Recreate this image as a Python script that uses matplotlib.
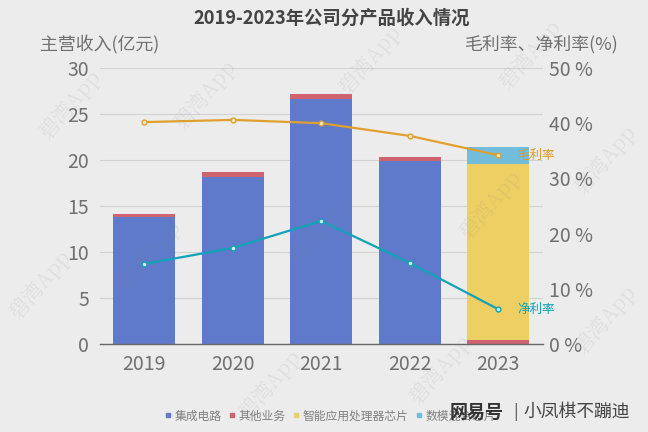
import numpy as np
import matplotlib
matplotlib.use("Agg")
import matplotlib.pyplot as plt
from matplotlib.lines import Line2D

plt.rcParams['font.family'] = ['Noto Sans CJK SC', 'DejaVu Sans']

years = ['2019', '2020', '2021', '2022', '2023']
ic = [13.8, 18.1, 26.6, 19.9, 0.0]
other = [0.3, 0.6, 0.6, 0.4, 0.4]
soc = [0, 0, 0, 0, 19.2]
mixed = [0, 0, 0, 0, 1.8]
gross_margin = [40.2, 40.6, 40.0, 37.7, 34.2]
net_margin = [14.5, 17.4, 22.3, 14.7, 6.3]

bg = '#ececec'
tick_col = '#707070'
W, H = 648, 432
fig = plt.figure(figsize=(6.48, 4.32), dpi=100, facecolor=bg)
ax = fig.add_axes([100 / W, 1 - 344 / H, 442.5 / W, 276 / H], facecolor=bg)

x = np.arange(len(years))
bottom = np.zeros(len(years))
for vals, col in [(ic, '#5f7acb'), (other, '#d0636f'), (soc, '#edcf63'), (mixed, '#72bcdc')]:
    ax.bar(x, vals, 0.7, bottom=bottom, color=col, zorder=2)
    bottom += np.array(vals)

ax.set_xlim(-0.5, 4.5)
ax.set_ylim(0, 30)
ax.set_yticks(range(0, 31, 5))
ax.set_xticks(x, years)
ax.grid(axis='y', color='#d2d2d2', lw=0.8, zorder=0)
ax.tick_params(length=0, labelsize=14, labelcolor=tick_col, pad=7)
ax.tick_params(axis='y', pad=8)
for s in ['top', 'right', 'left']:
    ax.spines[s].set_visible(False)
ax.spines['bottom'].set_color('#666666')
ax.spines['bottom'].set_linewidth(1)

ax2 = ax.twinx()
ax2.set_ylim(0, 50)
ax2.set_yticks(range(0, 51, 10), [f'{v} %' for v in range(0, 51, 10)])
ax2.tick_params(length=0, labelsize=14, labelcolor=tick_col, pad=5)
for s in ax2.spines.values():
    s.set_visible(False)
ax2.plot(x, gross_margin, color='#e0a030', lw=1.6, marker='o', ms=3.5, mfc='#f5e6c0', mec='#e0a030', mew=1)
ax2.plot(x, net_margin, color='#12a3b8', lw=1.6, marker='o', ms=3.5, mfc='#d8f0f0', mec='#12a3b8', mew=1)
ax2.text(4.22, gross_margin[4], '毛利率', color='#e0982a', fontsize=9, va='center')
ax2.text(4.22, net_margin[4], '净利率', color='#12a3b8', fontsize=9, va='center')

fig.text(332 / W, 1 - 18 / H, '2019-2023年公司分产品收入情况', ha='center', va='center',
         fontsize=13.2, fontweight='bold', color='#444444')
fig.text(40 / W, 1 - 45 / H, '主营收入(亿元)', va='center', fontsize=12.9, color=tick_col)
fig.text(619 / W, 1 - 45 / H, '毛利率、净利率(%)', va='center', ha='right', fontsize=12.9, color=tick_col)

names = ['集成电路', '其他业务', '智能应用处理器芯片', '数模混合芯片']
colors = ['#5f7acb', '#d0636f', '#edcf63', '#72bcdc']
handles = [Line2D([], [], ls='', marker='s', ms=3.5, color=c) for c in colors]
fig.legend(handles, names, loc='center', bbox_to_anchor=(330 / W, 1 - 416 / H), ncol=4, frameon=False,
           fontsize=8.5, labelcolor='#808080', handlelength=0.7, handletextpad=0.2, columnspacing=0.55)

# watermarks
for px, py in [(70, 105), (40, 285), (205, 95), (150, 255), (370, 60), (320, 230), (270, 385),
               (530, 55), (490, 205), (440, 370), (605, 320), (605, 160)]:
    fig.text(px / W, 1 - py / H, '碧湾App', rotation=50, fontsize=15, color='#888888', alpha=0.13,
             ha='center', va='center', family=['Noto Serif CJK SC', 'Noto Sans CJK SC', 'DejaVu Serif'], zorder=10)

fig.text(450 / W, 1 - 412 / H, '网易号', fontsize=13, color='#333333', va='center', fontweight='bold', zorder=11)
fig.text(513 / W, 1 - 412 / H, '|', fontsize=12, color='#555555', va='center', zorder=11)
fig.text(523 / W, 1 - 412 / H, '小凤棋不蹦迪', fontsize=12.8, color='#444444', va='center', zorder=11)

fig.savefig('out.png', dpi=100, facecolor=bg)
